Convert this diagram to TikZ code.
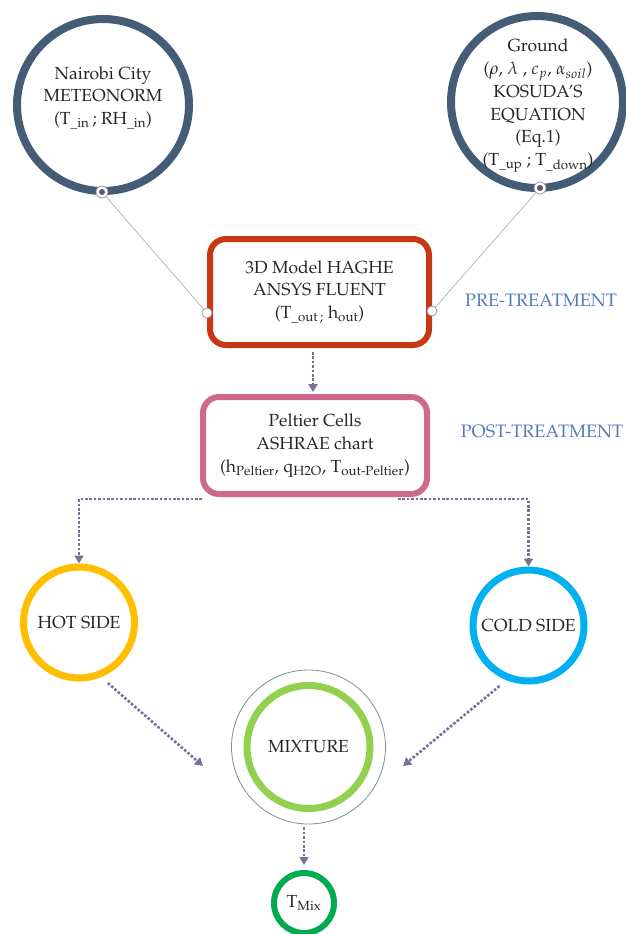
\documentclass[tikz,border=0pt]{standalone}
\usepackage[T1]{fontenc}
\usepackage{mathpazo}
\usetikzlibrary{arrows.meta}
\definecolor{ringblue}{RGB}{68,92,118}
\definecolor{boxred}{RGB}{200,56,18}
\definecolor{boxpink}{RGB}{206,104,140}
\definecolor{hotyellow}{RGB}{255,190,0}
\definecolor{coldblue}{RGB}{0,176,240}
\definecolor{mixgreen}{RGB}{146,208,80}
\definecolor{outgreen}{RGB}{0,170,80}
\definecolor{flowgray}{RGB}{120,112,150}
\definecolor{tagblue}{RGB}{84,122,190}
\definecolor{dotpurple}{RGB}{92,84,124}
\begin{document}
\begin{tikzpicture}[x=1pt,y=-1pt,
    ring/.style={circle,draw=ringblue,line width=8pt,inner sep=0pt,minimum size=172pt},
    txt/.style={align=center,text=black!85,font=\fontsize{17.5}{22.8}\selectfont},
    box/.style={txt,rounded corners=16pt,line width=6pt,inner sep=0pt},
    side/.style={txt,circle,line width=7pt,inner sep=0pt,minimum size=111pt},
    flow/.style={draw=flowgray,line width=2.6pt,dash pattern=on 2.6pt off 1.8pt,
        -{Triangle[width=9pt,length=8pt]}},
    link/.style={draw=gray!70,line width=0.6pt},
    port/.style={circle,draw=gray!80,fill=white,line width=0.8pt,inner sep=0pt,minimum size=10pt},
    dotport/.style={port,minimum size=12pt,
        path picture={\fill[dotpurple] (path picture bounding box.center) circle (3pt);}},
    tag/.style={text=tagblue,font=\fontsize{18}{21}\selectfont}]
    \useasboundingbox (0,0) rectangle (625,934);

    % Donnees d'entree
    \node[ring] (nairobi) at (103,105) {};
    \node[txt] (nairobiTxt) at (103,98) {Nairobi City\\METEONORM\\(T\textsubscript{\_in}\,; RH\textsubscript{\_in})};
    \node[ring] (ground) at (537,102) {};
    \node[txt] (groundTxt) at (538,105.5) {Ground\\($\rho$, $\lambda$ , $c_p$, $\alpha_{soil}$)\\KOSUDA'S\\EQUATION\\(Eq.1)\\(T\textsubscript{\_up} ; T\textsubscript{\_down})};
    \node[dotport] (nairobiDot) at (102,192) {};
    \node[dotport] (groundDot) at (540,188) {};

    % Modele 3D
    \node[box,draw=boxred,minimum width=219pt,minimum height=106pt] (haghe) at (319.5,292)
        {3D Model HAGHE\\ANSYS FLUENT\\(T\textsubscript{\_out\,;} h\textsubscript{out})};
    \node[port] (hagheL) at ([yshift=-21pt]haghe.west) {};
    \node[port] (hagheR) at ([yshift=-19pt]haghe.east) {};
    \draw[link] (nairobiDot) -- (hagheL);
    \draw[link] (groundDot) -- (hagheR);

    % Cellules Peltier
    \node[box,draw=boxpink,minimum width=224pt,minimum height=97pt] (peltier) at (315,445.5)
        {Peltier Cells\\ASHRAE chart\\(h\textsubscript{Peltier}, q\textsubscript{H2O}, T\textsubscript{out-Peltier})};
    \draw[flow,shorten <=4pt,shorten >=2pt] (haghe.south -| 313,0) -- (peltier.north -| 313,0);

    % Etiquettes
    \node[tag] (preTag) at (541,300) {PRE-TREATMENT};
    \node[tag] (postTag) at (542,431) {POST-TREATMENT};

    % Cotes chaud / froid
    \node[side,draw=hotyellow] (hot) at (79,622.5) {HOT SIDE};
    \node[side,draw=coldblue] (cold) at (528.5,625.5) {COLD SIDE};
    \coordinate (splitL) at (202,499);
    \coordinate (splitR) at (398,499);
    \draw[flow] (splitL) -| (hot.north);
    \draw[flow] (splitR) -| (cold.north);

    % Melange
    \node[circle,draw=ringblue!70,line width=0.8pt,inner sep=0pt,minimum size=154pt] (mixOut) at (308.5,747) {};
    \node[txt,circle,draw=mixgreen,line width=7pt,inner sep=0pt,minimum size=123pt] (mix) at (308.5,747) {MIXTURE};
    \coordinate (mixInL) at (203,766);
    \coordinate (mixInR) at (403,766);
    \draw[flow,shorten <=9pt] (hot.-68) -- (mixInL);
    \draw[flow,shorten <=9pt] (cold.-112) -- (mixInR);

    % Sortie
    \node[txt,circle,draw=outgreen,line width=6pt,inner sep=0pt,minimum size=60pt] (tmix) at (304,903) {T\textsubscript{Mix}};
    \draw[flow,shorten <=3pt,shorten >=5pt] (mixOut.south -| tmix) -- (tmix.north);
\end{tikzpicture}
\end{document}
